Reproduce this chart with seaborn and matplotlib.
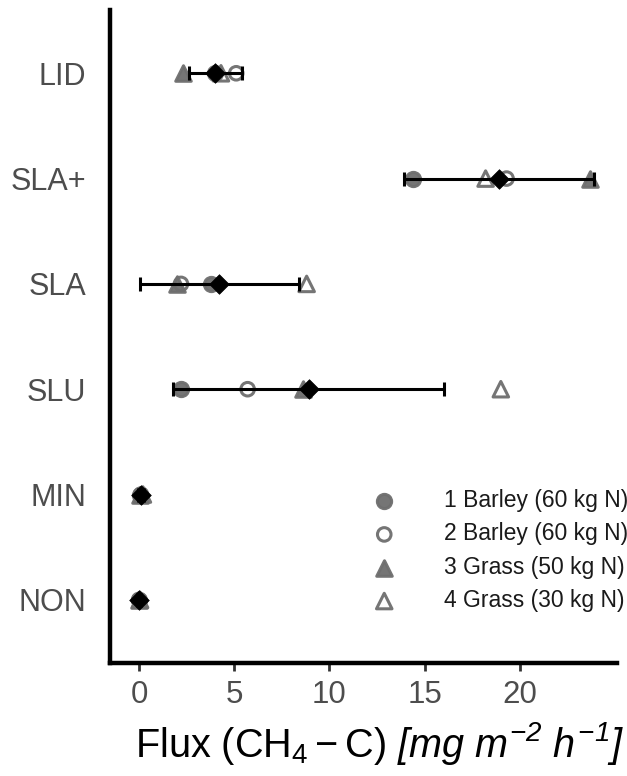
import numpy as np
import pandas as pd
import matplotlib
matplotlib.use("Agg")
import matplotlib.pyplot as plt
import seaborn as sns

# -----------------------------
# Data
# -----------------------------
# bottom -> top
sites = ["NON", "MIN", "SLU", "SLA", "SLA+", "LID"]

barley1 = [0.0, 0.05, 2.2, 3.8, 14.4, 4.0]
barley2 = [0.0, 0.1, 5.7, 2.2, 19.3, 5.1]
grass3 = [0.0, 0.05, 8.6, 2.0, 23.7, 2.3]
grass4 = [0.05, 0.2, 19.0, 8.8, 18.2, 4.3]

mean_flux = [0.0, 0.1, 8.9, 4.2, 18.9, 4.0]
err_lo = [-0.1, -0.05, 1.8, 0.05, 13.9, 2.6]
err_hi = [0.1, 0.25, 16.0, 8.4, 23.9, 5.4]

labels = ["1 Barley (60 kg N)", "2 Barley (60 kg N)",
          "3 Grass (50 kg N)", "4 Grass (30 kg N)"]

# -----------------------------
# Style
# -----------------------------
sns.set_theme(style="white")
plt.rcParams["font.family"] = ["Liberation Sans", "DejaVu Sans"]
plt.rcParams["mathtext.fontset"] = "custom"
# rm slot is italic so the brackets come out slanted; sf is the upright one
plt.rcParams["mathtext.rm"] = "Liberation Sans:italic"
plt.rcParams["mathtext.it"] = "Liberation Sans:italic"
plt.rcParams["mathtext.sf"] = "Liberation Sans"

grey = "#6e6e6e"

fig = plt.figure(figsize=(6.27, 7.76), dpi=100)
ax = fig.add_axes([0.1754, 0.1456, 0.8086, 0.8414])

err_df = pd.DataFrame({"site": sites, "mean": mean_flux,
                       "lo": err_lo, "hi": err_hi})
xerr = np.vstack([err_df["mean"] - err_df["lo"], err_df["hi"] - err_df["mean"]])

pts = pd.DataFrame({"site": sites * 4,
                    "flux": barley1 + barley2 + grass3 + grass4,
                    "treat": np.repeat(labels, len(sites))})

# invisible registration of category order (NON at bottom)
ax.plot(err_df["mean"], err_df["site"], alpha=0)

styles = {
    labels[0]: dict(marker="o", facecolor=grey, edgecolor=grey, s=105),
    labels[1]: dict(marker="o", facecolor="none", edgecolor=grey, s=95),
    labels[2]: dict(marker="^", facecolor=grey, edgecolor=grey, s=125),
    labels[3]: dict(marker="^", facecolor="none", edgecolor=grey, s=125),
}
for t in labels:
    st = styles[t]
    sub = pts[pts["treat"] == t]
    sns.scatterplot(data=sub, x="flux", y="site", ax=ax, marker=st["marker"],
                    s=st["s"], facecolor=st["facecolor"], edgecolor=st["edgecolor"],
                    linewidth=2.2, alpha=0.95, label=t, zorder=2)

ax.errorbar(err_df["mean"], err_df["site"], xerr=xerr, fmt="none",
            ecolor="black", elinewidth=2.2, capsize=5, capthick=2.2, zorder=3)

sns.scatterplot(data=err_df, x="mean", y="site", ax=ax, marker="D", s=100,
                color="black", edgecolor="black", linewidth=0.5, zorder=4,
                legend=False)

ax.set_xlim(-1.53, 25.1)
ax.set_ylim(-0.6, 5.6)
ax.set_xticks([0, 5, 10, 15, 20])

for side in ["top", "right"]:
    ax.spines[side].set_visible(False)
for side in ["left", "bottom"]:
    ax.spines[side].set_linewidth(3.2)
    ax.spines[side].set_color("black")

ax.tick_params(axis="x", length=5.5, width=2, color="#333333", pad=7,
               labelsize=22.5, labelcolor="#4d4d4d", bottom=True)
ax.tick_params(axis="y", length=0, pad=17, labelsize=22, labelcolor="#4d4d4d")

ax.set_xlabel(r"Flux ($\mathsf{CH_4 - C}$) $[mg\ m^{-2}\ h^{-1}]$",
              fontsize=28.5, color="black")
ax.xaxis.set_label_coords(0.532, -0.088)
ax.set_ylabel("")

leg = ax.legend(loc="lower right", bbox_to_anchor=(1.04, 0.064), frameon=False,
                fontsize=16.5, handletextpad=1.6, labelspacing=0.45,
                borderaxespad=0.0)
for txt in leg.get_texts():
    txt.set_color("#1a1a1a")

fig.savefig("out.png", dpi=100)
